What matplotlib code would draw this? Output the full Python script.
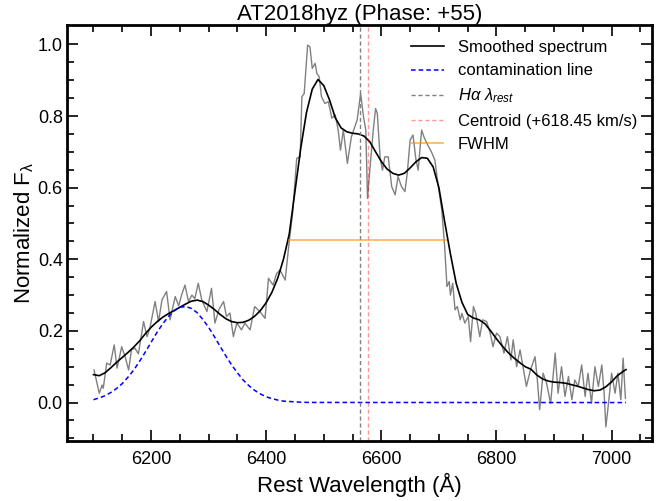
import matplotlib
matplotlib.use("Agg")
import matplotlib.pyplot as plt

plt.rcParams['font.family'] = ['Liberation Sans', 'DejaVu Sans']
plt.rcParams['mathtext.fontset'] = 'custom'
plt.rcParams['mathtext.rm'] = 'Liberation Sans'
plt.rcParams['mathtext.it'] = 'Liberation Sans:italic'

wave_obs = [6101, 6110, 6115, 6117, 6123, 6129, 6136, 6141, 6149, 6155, 6161, 6166, 6172, 6178,
            6187, 6193, 6198, 6207, 6213, 6219, 6227, 6233, 6242, 6248, 6253, 6259, 6265, 6271,
            6276, 6282, 6288, 6297, 6305, 6311, 6318, 6326, 6331, 6337, 6343, 6349, 6357, 6363,
            6372, 6380, 6389, 6398, 6404, 6412, 6418, 6424, 6433, 6440, 6446, 6453, 6459, 6462,
            6466, 6472, 6476, 6480, 6485, 6488, 6492, 6496, 6502, 6508, 6514, 6520, 6525, 6529,
            6534, 6541, 6548, 6554, 6558, 6564, 6569, 6573, 6576, 6580, 6586, 6590, 6593, 6598,
            6602, 6606, 6612, 6618, 6624, 6629, 6635, 6641, 6645, 6650, 6655, 6660, 6664, 6670,
            6674, 6679, 6687, 6693, 6699, 6705, 6710, 6714, 6718, 6720, 6724, 6728, 6732, 6737,
            6740, 6745, 6751, 6755, 6760, 6764, 6771, 6776, 6783, 6789, 6794, 6800, 6806, 6813,
            6819, 6825, 6829, 6835, 6841, 6847, 6852, 6859, 6867, 6871, 6875, 6881, 6887, 6894,
            6902, 6907, 6913, 6919, 6925, 6931, 6936, 6942, 6948, 6954, 6959, 6965, 6971, 6977,
            6983, 6987, 6990, 6994, 7000, 7006, 7011, 7016, 7020, 7024]
flux_obs = [0.091, 0.026, 0.049, 0.040, 0.110, 0.105, 0.161, 0.096, 0.156, 0.128, 0.091, 0.147, 0.152, 0.136,
            0.226, 0.184, 0.208, 0.282, 0.226, 0.287, 0.310, 0.231, 0.296, 0.270, 0.300, 0.328, 0.282, 0.300,
            0.290, 0.333, 0.287, 0.254, 0.319, 0.222, 0.260, 0.282, 0.240, 0.250, 0.184, 0.222, 0.203, 0.222,
            0.203, 0.268, 0.254, 0.235, 0.347, 0.328, 0.360, 0.370, 0.342, 0.450, 0.530, 0.682, 0.686, 0.854,
            0.863, 0.998, 0.993, 0.933, 0.947, 0.919, 0.910, 0.854, 0.835, 0.840, 0.794, 0.803, 0.761, 0.705,
            0.761, 0.668, 0.742, 0.770, 0.789, 0.863, 0.798, 0.761, 0.570, 0.649, 0.761, 0.821, 0.807, 0.682,
            0.649, 0.686, 0.686, 0.603, 0.580, 0.631, 0.603, 0.589, 0.640, 0.733, 0.747, 0.680, 0.649, 0.761,
            0.742, 0.724, 0.700, 0.677, 0.603, 0.538, 0.435, 0.324, 0.338, 0.300, 0.333, 0.259, 0.268, 0.231,
            0.249, 0.222, 0.240, 0.170, 0.268, 0.249, 0.184, 0.231, 0.226, 0.194, 0.156, 0.194, 0.184, 0.138,
            0.184, 0.119, 0.175, 0.100, 0.147, 0.091, 0.045, 0.091, 0.128, 0.063, -0.020, 0.082, 0.054, -0.002,
            0.138, 0.026, 0.100, 0.017, 0.073, 0.008, 0.063, 0.045, 0.105, 0.017, 0.082, -0.002, 0.100, 0.045,
            0.105, 0.026, -0.068, -0.011, 0.082, 0.026, 0.082, 0.008, 0.124, 0.012]

# smoothed spectrum
wave_smooth = [6100, 6110, 6120, 6130, 6140, 6150, 6160, 6170, 6180, 6190, 6200, 6210, 6220, 6230,
               6240, 6250, 6260, 6270, 6280, 6290, 6300, 6310, 6320, 6330, 6340, 6350, 6360, 6370,
               6380, 6390, 6400, 6410, 6420, 6430, 6440, 6450, 6460, 6470, 6480, 6490, 6500, 6510,
               6520, 6530, 6540, 6550, 6560, 6570, 6580, 6590, 6600, 6610, 6620, 6630, 6640, 6650,
               6660, 6670, 6680, 6690, 6700, 6710, 6720, 6730, 6740, 6750, 6760, 6770, 6780, 6790,
               6800, 6810, 6820, 6830, 6840, 6850, 6860, 6870, 6880, 6890, 6900, 6910, 6920, 6930,
               6940, 6950, 6960, 6970, 6980, 6990, 7000, 7010, 7020, 7025]
flux_smooth = [0.078, 0.075, 0.083, 0.097, 0.112, 0.126, 0.140, 0.155, 0.172, 0.192, 0.210, 0.225, 0.238, 0.248,
               0.257, 0.266, 0.275, 0.283, 0.286, 0.282, 0.272, 0.260, 0.246, 0.234, 0.226, 0.223, 0.224, 0.230,
               0.241, 0.257, 0.279, 0.308, 0.347, 0.400, 0.470, 0.590, 0.710, 0.810, 0.875, 0.902, 0.885, 0.845,
               0.795, 0.767, 0.756, 0.752, 0.750, 0.744, 0.728, 0.700, 0.673, 0.652, 0.640, 0.635, 0.640, 0.655,
               0.672, 0.684, 0.682, 0.658, 0.600, 0.505, 0.415, 0.333, 0.280, 0.246, 0.236, 0.231, 0.220, 0.200,
               0.178, 0.158, 0.140, 0.125, 0.112, 0.100, 0.093, 0.077, 0.066, 0.060, 0.057, 0.056, 0.054, 0.050,
               0.046, 0.041, 0.036, 0.033, 0.035, 0.044, 0.058, 0.075, 0.087, 0.092]

# contamination component
wave_cont = [6100, 6110, 6120, 6130, 6140, 6150, 6160, 6170, 6180, 6190, 6200, 6210, 6220, 6230,
             6240, 6250, 6260, 6270, 6280, 6290, 6300, 6310, 6320, 6330, 6340, 6350, 6360, 6370,
             6380, 6390, 6400, 6410, 6420, 6430, 6440, 6450, 6460, 6470, 6480, 7025]
flux_cont = [0.008, 0.013, 0.019, 0.028, 0.039, 0.053, 0.071, 0.091, 0.115, 0.141, 0.168, 0.195, 0.219, 0.240,
             0.256, 0.266, 0.268, 0.263, 0.251, 0.232, 0.210, 0.184, 0.157, 0.130, 0.105, 0.083, 0.063, 0.047,
             0.034, 0.024, 0.016, 0.011, 0.007, 0.004, 0.003, 0.002, 0.001, 0.0005, 0.0003, 0.0]

ha_rest = 6562.8
centroid = 6576.3
fwhm_left, fwhm_right, fwhm_level = 6438, 6714, 0.454

fig = plt.figure(figsize=(6.7, 5.01), dpi=100)
ax = fig.add_axes([0.1, 0.12, 0.873, 0.83])

ax.plot(wave_obs, flux_obs, color='gray', lw=1.0)
ax.plot(wave_smooth, flux_smooth, color='black', lw=1.2, label='Smoothed spectrum')
ax.plot(wave_cont, flux_cont, color='blue', ls=(0, (3, 2)), lw=1.1, label='contamination line')
ax.axvline(ha_rest, color='gray', ls=(0, (3, 2)), lw=1.0, label=r'$H\alpha\ \lambda_{rest}$')
ax.axvline(centroid, color='red', ls=(0, (3, 2)), lw=1.0, alpha=0.4, label='Centroid (+618.45 km/s)')
ax.hlines(fwhm_level, fwhm_left, fwhm_right, color='darkorange', lw=1.3, alpha=0.6, label='FWHM')

ax.set_xlim(6054, 7070)
ax.set_ylim(-0.107, 1.054)
ax.set_xticks([6200, 6400, 6600, 6800, 7000])
ax.set_xticks(range(6100, 7070, 50), minor=True)
ax.set_yticks([0.0, 0.2, 0.4, 0.6, 0.8, 1.0])
ax.set_yticks([-0.1 + 0.05 * i for i in range(23)], minor=True)

ax.tick_params(which='both', direction='in', top=True, right=True, width=1.2, labelsize=13)
ax.tick_params(which='major', length=8)
ax.tick_params(which='minor', length=5)
ax.tick_params(axis='x', pad=7)
ax.tick_params(axis='y', pad=3)
for s in ax.spines.values():
    s.set_linewidth(2)

ax.set_xlabel('Rest Wavelength (Å)', fontsize=16)
ax.set_ylabel(r'Normalized F$_{\mathrm{\lambda}}$', fontsize=16, labelpad=1)
ax.set_title('AT2018hyz (Phase: +55)', fontsize=16, pad=3)
ax.legend(loc='upper right', frameon=False, fontsize=12)

plt.savefig('out.png', dpi=100)
